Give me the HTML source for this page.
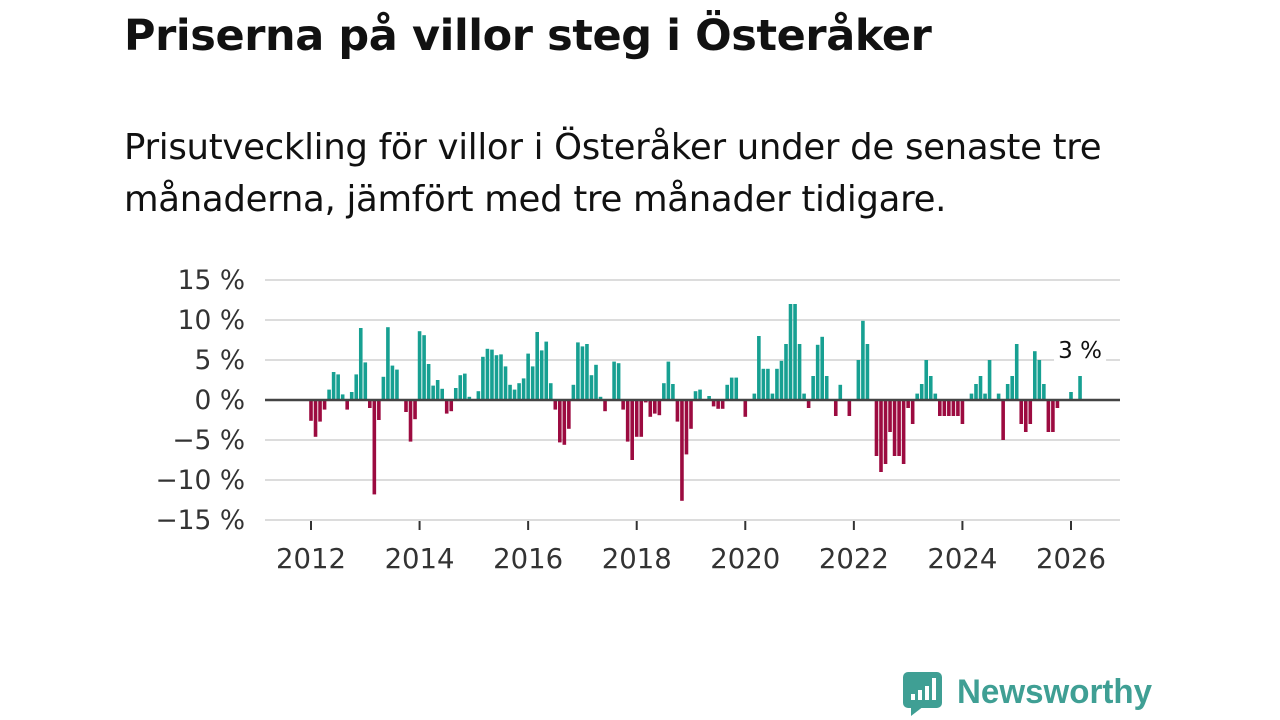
<!DOCTYPE html>
<html><head><meta charset="utf-8"><style>
body{margin:0;width:1280px;height:720px;background:#fff;font-family:"Liberation Sans","DejaVu Sans",sans-serif;overflow:hidden;position:relative}
h1{position:absolute;left:124px;top:11px;margin:0;font-size:43px;font-weight:bold;color:#111;font-family:"DejaVu Sans","Liberation Sans",sans-serif;letter-spacing:-0.4px}
.sub{position:absolute;left:124px;top:122px;margin:0;font-size:35.5px;line-height:52px;color:#111;font-family:"DejaVu Sans","Liberation Sans",sans-serif;width:1150px;letter-spacing:-0.3px}
svg{position:absolute;left:0;top:0}
</style></head><body>
<h1>Priserna på villor steg i Österåker</h1>
<p class="sub">Prisutveckling för villor i Österåker under de senaste tre<br>månaderna, jämfört med tre månader tidigare.</p>
<svg id="chart" width="1280" height="720"></svg>
<script>
const yTicks=[15,10,5,0,-5,-10,-15];
const yTickLabels=["15 %","10 %","5 %","0 %","−5 %","−10 %","−15 %"];
const xTickYears=[2012,2014,2016,2018,2020,2022,2024,2026];
const startYear=2012;
const v2012=[-2.6,-4.6,-2.7,-1.2,1.3,3.5,3.2,0.7,-1.2,1.0,3.2,9.0];
const v2013=[4.7,-1,-11.8,-2.5,2.9,9.1,4.3,3.8,0,-1.5,-5.2,-2.4];
const v2014=[8.6,8.1,4.5,1.8,2.5,1.4,-1.7,-1.4,1.5,3.1,3.3,0.4];
const v2015=[0,1.1,5.4,6.4,6.3,5.6,5.7,4.2,1.9,1.3,2.1,2.7];
const v2016=[5.8,4.2,8.5,6.2,7.3,2.1,-1.2,-5.3,-5.6,-3.6,1.9,7.2];
const v2017=[6.7,7.0,3.1,4.4,0.4,-1.4,-0.1,4.8,4.6,-1.2,-5.2,-7.5];
const v2018=[-4.6,-4.6,-0.3,-2.1,-1.7,-1.9,2.1,4.8,2.0,-2.7,-12.6,-6.8];
const v2019=[-3.6,1.1,1.3,0.1,0.5,-0.8,-1.1,-1.1,1.9,2.8,2.8,0];
const v2020=[-2.1,0,0.8,8.0,3.9,3.9,0.8,3.9,4.9,7.0,12.0,12.0];
const v2021=[7.0,0.8,-1.0,3.0,6.9,7.9,3.0,0,-2.0,1.9,0,-2.0];
const v2022=[0,5.0,9.9,7.0,0,-7.0,-9.0,-8.0,-4.0,-7.0,-7.0,-8.0];
const v2023=[-1.0,-3.0,0.8,2.0,5.0,3.0,0.8,-2.0,-2.0,-2.0,-2.0,-2.0];
const v2024=[-3.0,0,0.8,2.0,3.0,0.8,5.0,0,0.8,-5.0,2.0,3.0];
const v2025=[7.0,-3.0,-4.0,-3.0,6.1,5.0,2.0,-4.0,-4.0,-1.0,0,0];
const v2026=[1.0,0,3.0];
const values=[].concat(v2012,v2013,v2014,v2015,v2016,v2017,v2018,v2019,v2020,v2021,v2022,v2023,v2024,v2025,v2026);
const lastLabel="3 %";

const NS="http://www.w3.org/2000/svg";
const svg=document.getElementById('chart');
const X0=265,X1=1120;
function y(v){return 400-v*8;}
function xm(i){return 311+i*(760/168);}
function mk(t,a){const e=document.createElementNS(NS,t);for(const k in a)e.setAttribute(k,a[k]);svg.appendChild(e);return e;}
yTicks.forEach((t,i)=>{
  if(t!==0){const g=mk('line',{x1:X0,x2:X1,y1:y(t),y2:y(t),stroke:'#dcdcdc','stroke-width':2});
  
  }
  const l=mk('text',{x:245,y:y(t)+9,'text-anchor':'end','font-size':26.5,fill:'#333','font-family':'"DejaVu Sans","Liberation Sans",sans-serif'});
  l.textContent=yTickLabels[i];
  
  
});
values.forEach((v,i)=>{
  if(v===0)return;
  const b=mk('rect',{x:xm(i)-1.8,width:3.6,y:Math.min(y(v),400),height:Math.abs(y(v)-400),fill:v>0?'#17a092':'#9c0b40'});
  
  
});
const z=mk('line',{x1:X0,x2:X1,y1:400,y2:400,stroke:'#444','stroke-width':2.5});


xTickYears.forEach(yr=>{
  const x=xm((yr-startYear)*12);
  const t=mk('line',{x1:x,x2:x,y1:521,y2:530,stroke:'#333','stroke-width':2});
  
  
  const l=mk('text',{x:x,y:568,'text-anchor':'middle','font-size':27.5,fill:'#333','font-family':'"DejaVu Sans","Liberation Sans",sans-serif'});
  l.textContent=yr;
  
  
});
const li=values.length-1;
const bg=mk('rect',{x:xm(li)-26,y:336,width:52,height:26,fill:'#fff'});


const lv=mk('text',{x:xm(li),y:358,'text-anchor':'middle','font-size':23,fill:'#111','font-family':'"DejaVu Sans","Liberation Sans",sans-serif'});
lv.textContent=lastLabel;


</script>
<svg width="1280" height="720" style="pointer-events:none">
  <rect x="903" y="672" width="39" height="36" rx="5" fill="#3f9f94"/>
  <polygon points="911,706 924,706 911,716" fill="#3f9f94"/>
  <rect x="911" y="694" width="4" height="6" fill="#fff"/>
  <rect x="918" y="690" width="4" height="10" fill="#fff"/>
  <rect x="925" y="686" width="4" height="14" fill="#fff"/>
  <rect x="932" y="678" width="4" height="22" fill="#fff"/>
  <text x="957" y="703" font-size="34" font-weight="bold" fill="#3f9f94" font-family="Liberation Sans, sans-serif" textLength="195" lengthAdjust="spacingAndGlyphs">Newsworthy</text>
</svg>
</body></html>
